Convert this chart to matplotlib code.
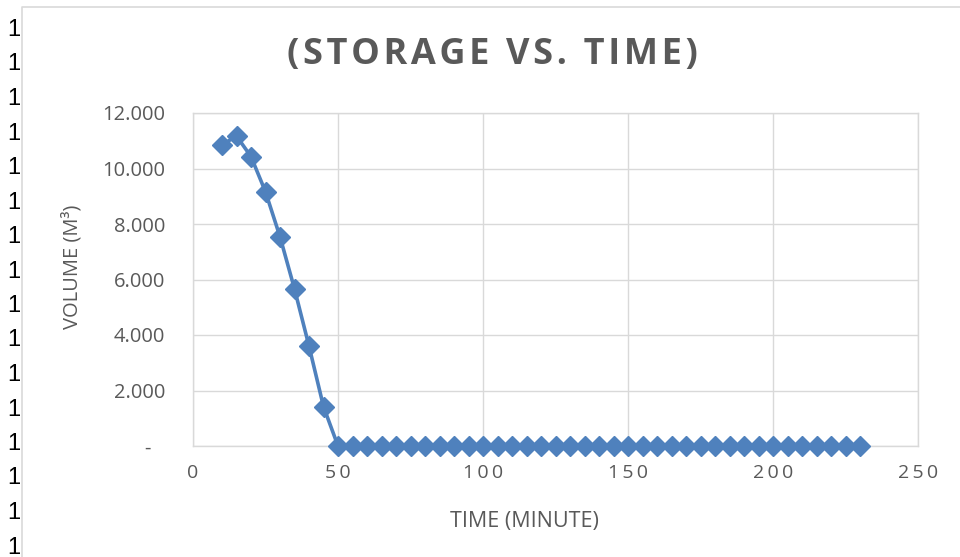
import matplotlib
matplotlib.use("Agg")
import matplotlib.pyplot as plt
from matplotlib.lines import Line2D

# ---- data ----
time_min = [10, 15, 20, 25, 30, 35, 40, 45, 50, 55, 60, 65, 70, 75, 80, 85, 90, 95,
            100, 105, 110, 115, 120, 125, 130, 135, 140, 145, 150, 155, 160, 165,
            170, 175, 180, 185, 190, 195, 200, 205, 210, 215, 220, 225, 230]
volume = [10.85, 11.17, 10.43, 9.16, 7.54, 5.66, 3.60, 1.42, 0, 0, 0, 0, 0, 0, 0, 0,
          0, 0, 0, 0, 0, 0, 0, 0, 0, 0, 0, 0, 0, 0, 0, 0, 0, 0, 0, 0, 0, 0, 0, 0,
          0, 0, 0, 0, 0]
y_ticks = [0, 2, 4, 6, 8, 10, 12]
y_tick_labels = ["-  \u2009", "2.000", "4.000", "6.000", "8.000", "10.000", "12.000"]
x_ticks = [0, 50, 100, 150, 200, 250]
title = "(STORAGE VS. TIME)"
x_label = "TIME (MINUTE)"
y_label = "VOLUME (M³)"
row_labels = ["1"] * 16

FAM = ["Open Sans", "DejaVu Sans"]
TXT = "#595959"
GRID = "#d9d9d9"
LINEC = "#4f81bd"

W, H = 960, 557
fig = plt.figure(figsize=(W / 100, H / 100), dpi=100)
fig.patch.set_facecolor("white")

ax = fig.add_axes([193 / W, 1 - 446 / H, (918 - 193) / W, (446 - 113) / H])
ax.plot(time_min, volume, color=LINEC, lw=2.6, marker="D", markersize=10,
        markerfacecolor=LINEC, markeredgecolor=LINEC, zorder=3, clip_on=False)
ax.set_xlim(0, 250)
ax.set_ylim(0, 12)
ax.set_xticks(x_ticks)
ax.set_xticklabels(["\u2009".join(str(v)) for v in x_ticks], family=FAM, fontsize=14, color=TXT)
ax.set_yticks(y_ticks)
ax.set_yticklabels(y_tick_labels, family=FAM, fontsize=14.5, color=TXT)
ax.tick_params(length=0)
ax.tick_params(axis="y", pad=20)
ax.tick_params(axis="x", pad=13)
ax.grid(True, color=GRID, lw=1)
ax.set_axisbelow(True)
for s in ax.spines.values():
    s.set_color(GRID)
    s.set_linewidth(1)

fig.text(524 / W, 1 - 521 / H, x_label, ha="center", va="center", family=FAM,
         fontsize=15.5, color=TXT)
fig.text(72 / W, 1 - 267 / H, y_label, ha="center", va="center", rotation=90,
         family=FAM, fontsize=14.5, color=TXT)
fig.text(492 / W, 1 - 55 / H, "\u200a".join(title), ha="center", va="center", family=FAM,
         fontsize=26, fontweight="bold", color=TXT)

# chart area border
fig.add_artist(Line2D([22 / W, 22 / W, 1.0], [0, 1 - 7 / H, 1 - 7 / H],
                      transform=fig.transFigure, color=GRID, lw=1.2))

# spreadsheet row labels peeking on the left
for i, lab in enumerate(row_labels):
    fig.text(14 / W, 1 - (30 + 34.5 * i) / H, lab, ha="center", va="center",
             family=["Liberation Sans", "DejaVu Sans"], fontsize=17, color="black")

fig.savefig("out.png", dpi=100, facecolor="white")
